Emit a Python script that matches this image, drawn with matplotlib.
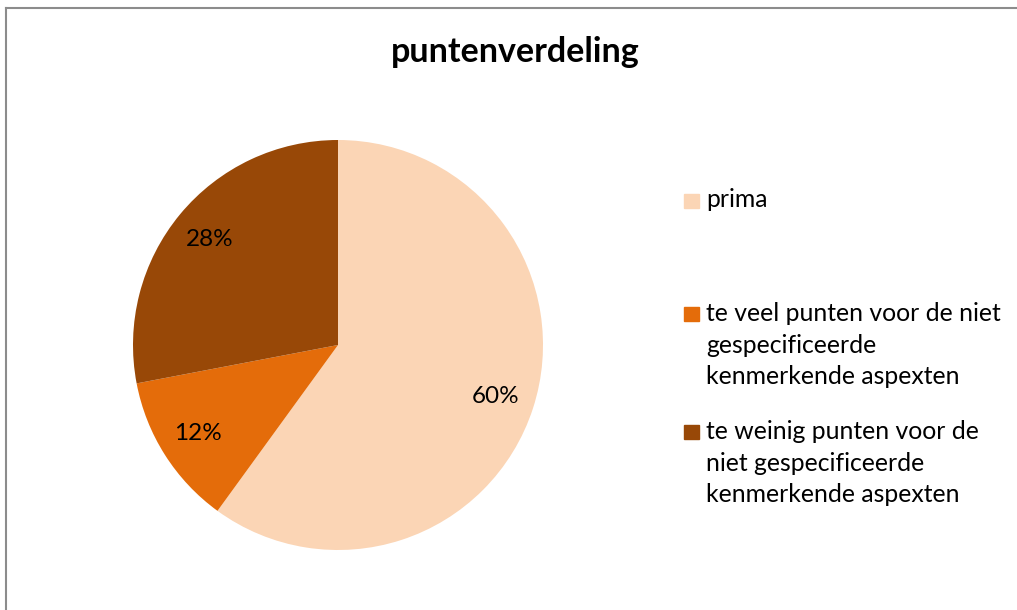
import matplotlib.pyplot as plt
from matplotlib.lines import Line2D
from matplotlib.patches import Rectangle

# data
labels = ['prima',
          'te veel punten voor de niet\ngespecificeerde\nkenmerkende aspexten',
          'te weinig punten voor de\nniet gespecificeerde\nkenmerkende aspexten']
values = [60, 12, 28]
colors = ['#FBD5B5', '#E46C0A', '#984807']

plt.rcParams['font.family'] = ['Lato', 'DejaVu Sans']

W, H = 1017, 610
fig = plt.figure(figsize=(W / 100, H / 100), dpi=100)

# chart border (only top / left visible in the reference crop)
fig.add_artist(Line2D([5.5 / W, 5.5 / W], [0, 1 - 7.5 / H], color='#8c8c8c', lw=1.5))
fig.add_artist(Line2D([5.5 / W, 1], [1 - 7.5 / H, 1 - 7.5 / H], color='#8c8c8c', lw=1.5))

ax = fig.add_axes([133 / W, 60 / H, 410 / W, 410 / H])
wedges, texts, autotexts = ax.pie(values, colors=colors, startangle=90, counterclock=False,
                                  autopct='%1.0f%%', pctdistance=0.81,
                                  textprops={'fontsize': 17.5, 'color': 'black'})
ax.set_xlim(-1, 1)
ax.set_ylim(-1, 1)
ax.set_aspect('equal')

fig.text(515.5 / W, 1 - 52 / H, 'puntenverdeling', ha='center', va='center',
         fontsize=24.5, fontweight='bold')

# legend drawn by hand to match the uneven spacing
baselines = [207, 320, 438]
line_h = 32
for lab, col, y in zip(labels, colors, baselines):
    fig.add_artist(Rectangle((684 / W, 1 - (y + 1) / H), 15 / W, 14 / H,
                             color=col, transform=fig.transFigure))
    # multi-line text is anchored on its last baseline
    last = y + (lab.count('\n')) * line_h
    fig.text(706 / W, 1 - last / H, lab, ha='left', va='baseline',
             fontsize=17.8, linespacing=1.44)

fig.savefig('out.png', dpi=100)
